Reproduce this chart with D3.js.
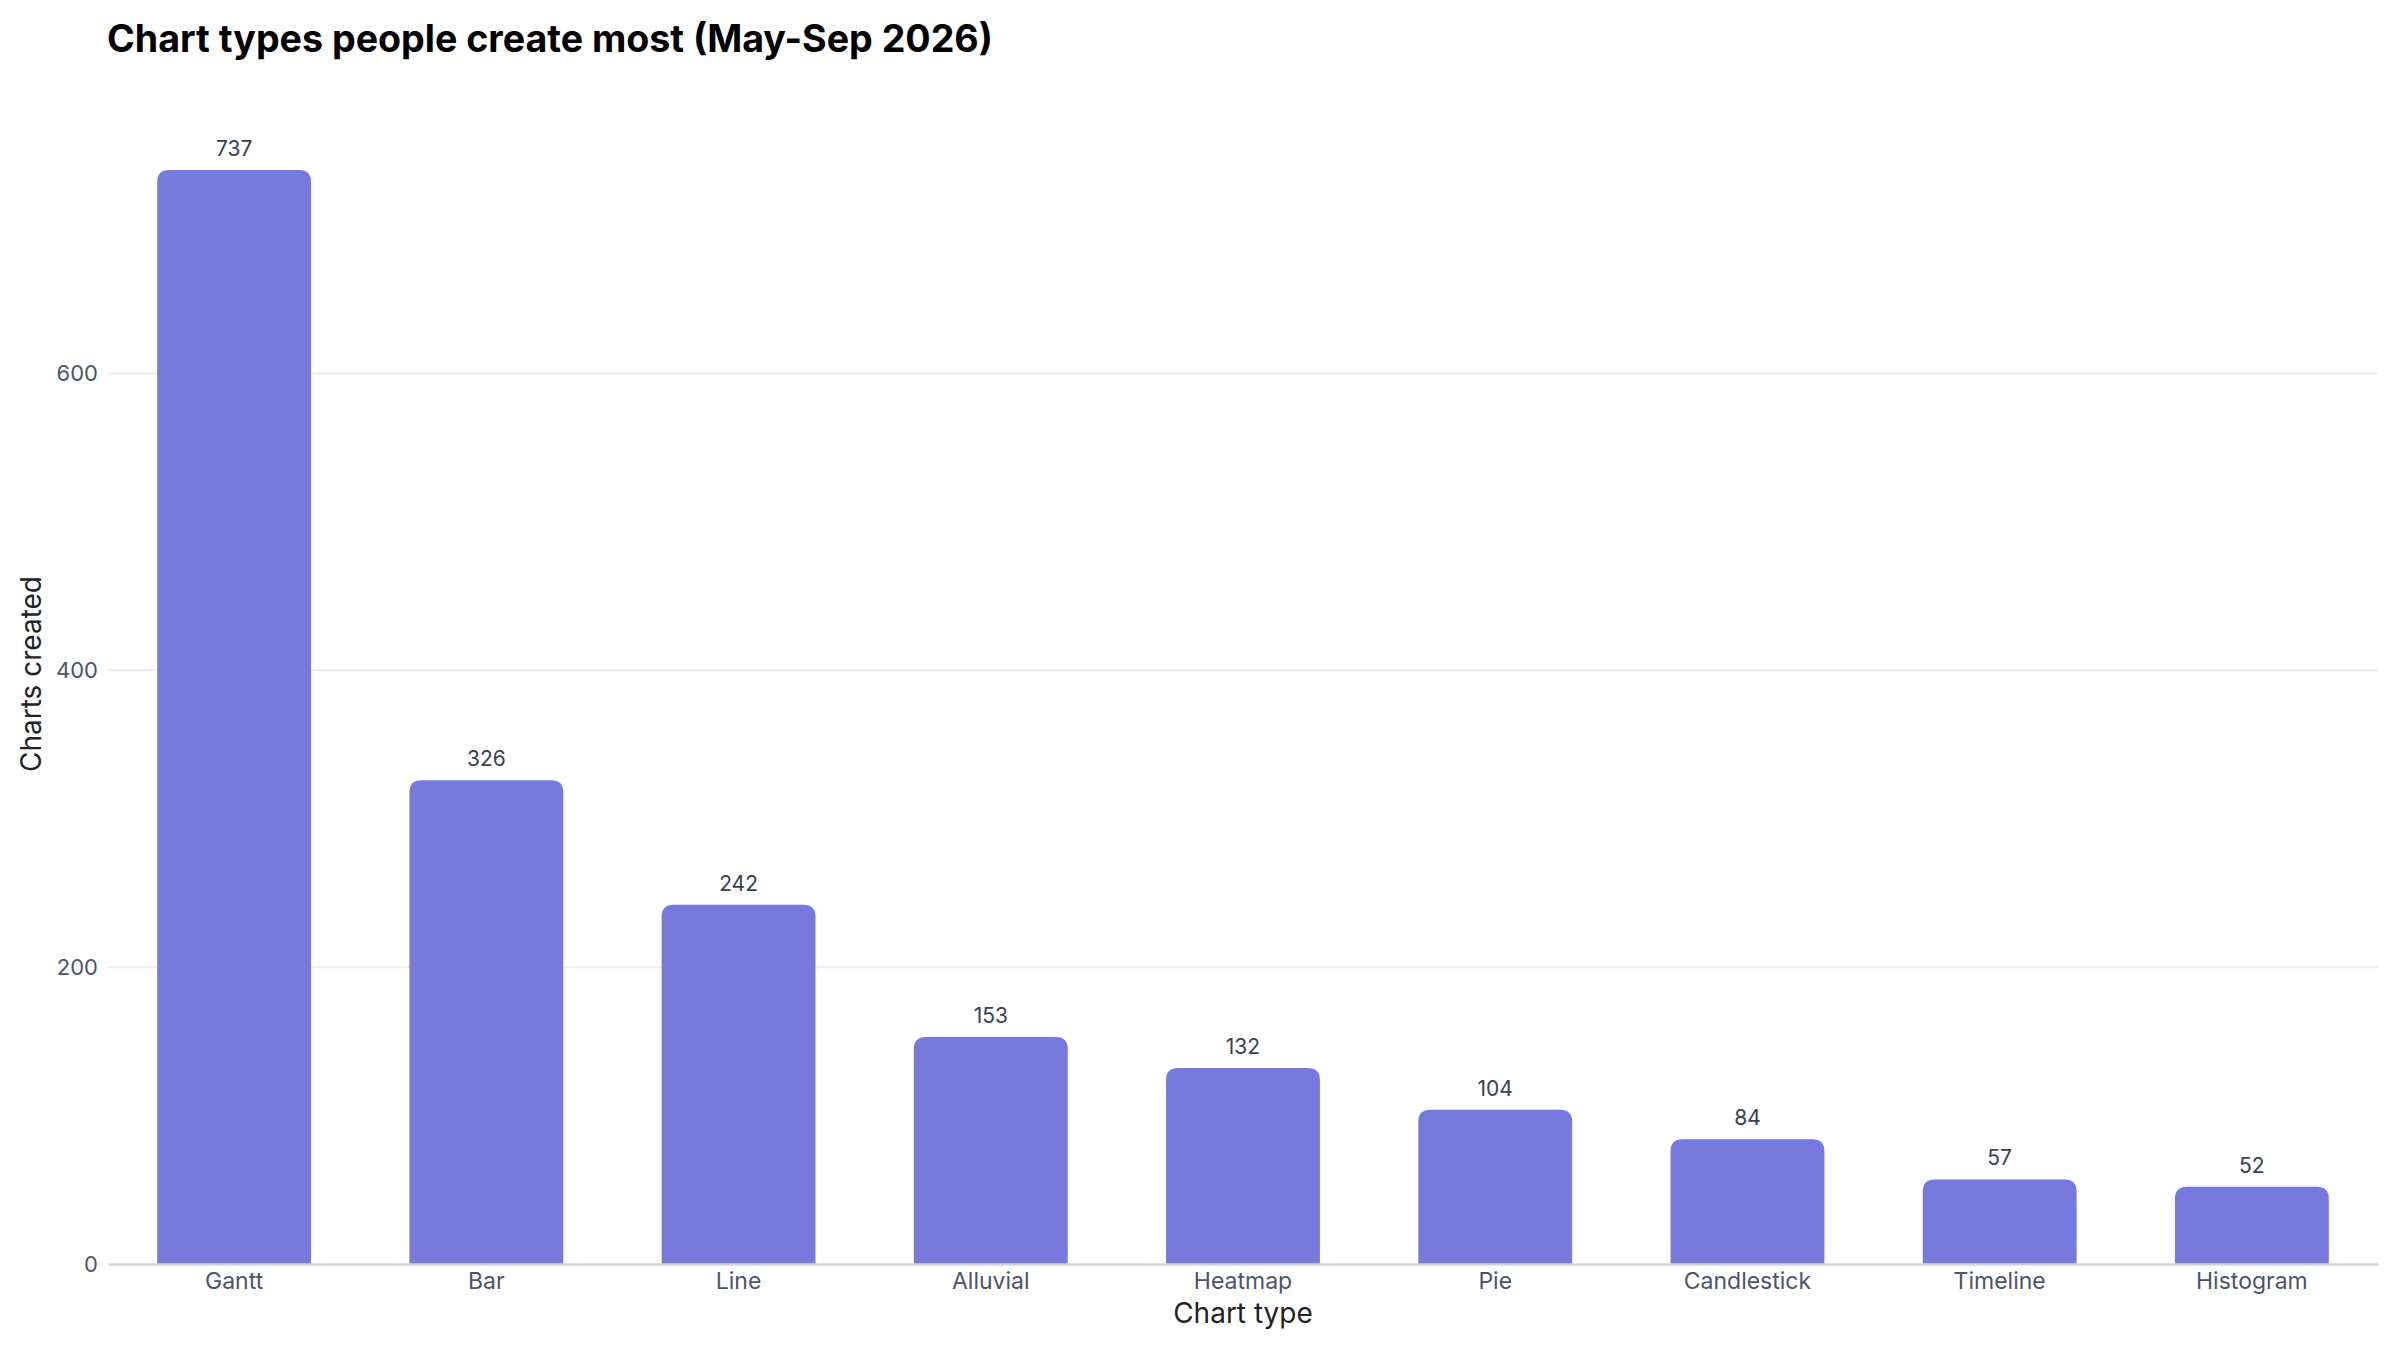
<!DOCTYPE html>
<html>
<head>
<meta charset="utf-8">
<script src="https://cdn.jsdelivr.net/npm/d3@7"></script>
<style>
  html, body { margin: 0; padding: 0; background: #fff; }
  svg { display: block; font-family: Inter, "Noto Sans", sans-serif; }
</style>
</head>
<body>
<div id="chart"></div>
<script>
var categories = ["Gantt", "Bar", "Line", "Alluvial", "Heatmap", "Pie", "Candlestick", "Timeline", "Histogram"]
var counts = [737, 326, 242, 153, 132, 104, 84, 57, 52]
var yTicks = [0, 200, 400, 600]

var width = 2400, height = 1350
var margin = {top: 84, right: 22, bottom: 86, left: 108}
var innerW = width - margin.left - margin.right,
    innerH = height - margin.top - margin.bottom

var svg = d3.select("#chart")
  .append("svg")
  .attr("width", width)
  .attr("height", height)

var g = svg.append("g")
  .attr("transform", "translate(" + margin.left + "," + margin.top + ")")

var x = d3.scaleBand()
  .domain(categories)
  .range([0, innerW])
  .paddingInner(0.39)
  .paddingOuter(0.195)

var y = d3.scaleLinear()
  .domain([0, 795])
  .range([innerH, 0])

// gridlines
g.append("g")
  .selectAll("line")
  .data(yTicks.filter(function(d) { return d > 0 }))
  .join("line")
  .attr("x1", 0)
  .attr("x2", innerW)
  .attr("y1", function(d) { return y(d) })
  .attr("y2", function(d) { return y(d) })
  .attr("stroke", "#eceef2")
  .attr("stroke-width", 2)

// bars with rounded tops
var r = 12
function barPath(d, i) {
  var x0 = x(categories[i]), w = x.bandwidth()
  var top = y(d), bottom = y(0)
  var rr = Math.min(r, (bottom - top) / 2)
  return "M" + x0 + "," + bottom +
    "V" + (top + rr) +
    "Q" + x0 + "," + top + " " + (x0 + rr) + "," + top +
    "H" + (x0 + w - rr) +
    "Q" + (x0 + w) + "," + top + " " + (x0 + w) + "," + (top + rr) +
    "V" + bottom + "Z"
}

g.append("g")
  .selectAll("path")
  .data(counts)
  .join("path")
  .attr("d", barPath)
  .attr("fill", "#7779dd")

// value labels
g.append("g")
  .selectAll("text")
  .data(counts)
  .join("text")
  .attr("x", function(d, i) { return x(categories[i]) + x.bandwidth() / 2 })
  .attr("y", function(d) { return y(d) - 14 })
  .attr("text-anchor", "middle")
  .attr("font-size", 21)
  .attr("fill", "#374151")
  .text(function(d) { return d })

// x axis
var xAxis = g.append("g")
  .attr("transform", "translate(0," + innerH + ")")
  .call(d3.axisBottom(x).tickSize(0).tickPadding(9))
xAxis.select(".domain").attr("stroke", "#cfd6e2").attr("stroke-width", 2.5)
xAxis.selectAll("text")
  .attr("font-size", 23)
  .attr("fill", "#4a5568")
  .attr("font-family", "Inter, sans-serif")

// y axis
var yAxis = g.append("g")
  .call(d3.axisLeft(y).tickValues(yTicks).tickSize(0).tickPadding(10))
yAxis.select(".domain").remove()
yAxis.selectAll("text")
  .attr("font-size", 22)
  .attr("fill", "#4a5568")
  .attr("font-family", "Inter, sans-serif")

// axis titles
svg.append("text")
  .attr("x", margin.left + innerW / 2)
  .attr("y", 1323)
  .attr("text-anchor", "middle")
  .attr("font-size", 28)
  .attr("fill", "#1f2328")
  .text("Chart type")

svg.append("text")
  .attr("transform", "rotate(-90)")
  .attr("x", -(margin.top + innerH / 2))
  .attr("y", 41)
  .attr("text-anchor", "middle")
  .attr("font-size", 28)
  .attr("fill", "#1f2328")
  .text("Charts created")

// title
svg.append("text")
  .attr("x", 107)
  .attr("y", 52)
  .attr("font-size", 37.6)
  .attr("font-weight", 700)
  .attr("fill", "#000")
  .text("Chart types people create most (May-Sep 2026)")
</script>
</body>
</html>
